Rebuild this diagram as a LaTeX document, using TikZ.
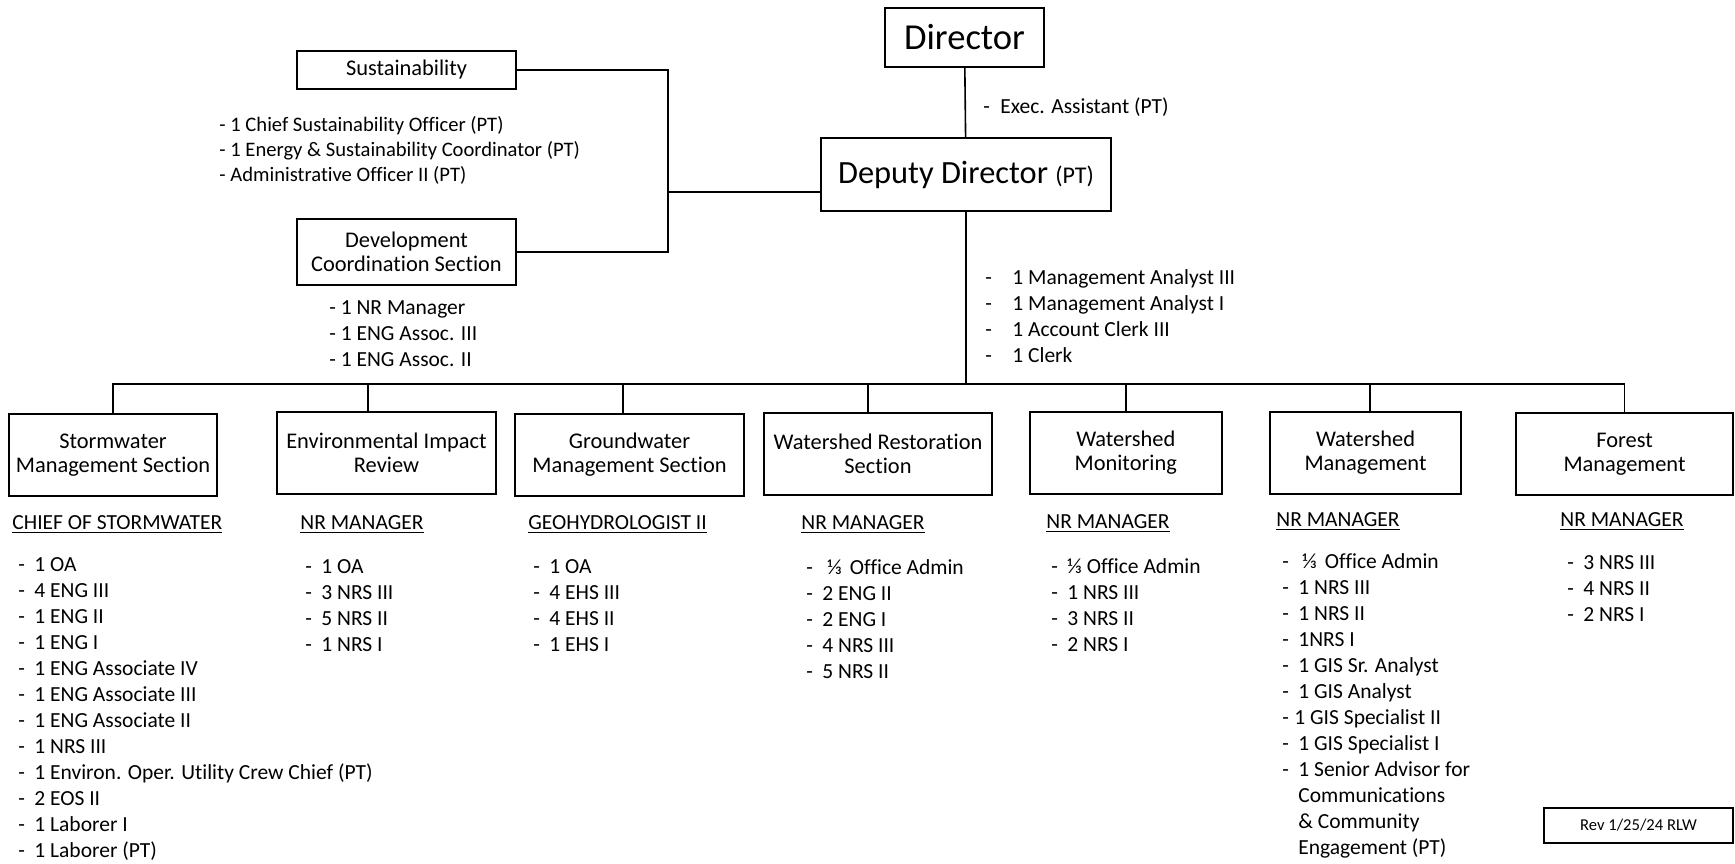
\documentclass[tikz,border=0pt]{standalone}
\usepackage{fontspec}
\setmainfont{Carlito}[Ligatures={NoCommon}]
\usetikzlibrary{positioning}
\newcommand{\listfont}{\fontsize{10.75}{13}\selectfont}
\newcommand{\boxfont}{\fontsize{11.2}{12}\selectfont}
\newcommand{\staff}[2][8pt]{\makebox[#1][l]{-}#2}

\begin{document}
\begin{tikzpicture}[
    x=0.5pt, y=-0.5pt,
    orgbox/.style={draw, line width=1pt, inner sep=0pt, align=center, font=\boxfont},
    sectionbox/.style={orgbox, minimum height=41pt},
    stafflist/.style={anchor=west, inner sep=0pt, align=left, font=\listfont},
    headline/.style={anchor=west, inner sep=0pt, font=\listfont},
    link/.style={line width=0.8pt}
]
    \useasboundingbox (0,0) rectangle (1735,863);

    % Top
    \node[orgbox, minimum width=79.5pt, minimum height=29.5pt, font=\fontsize{18.3}{20}\selectfont] (director) at (964.5,37.5) {Director};
    \node[orgbox, minimum width=145pt, minimum height=36.5pt, font=\fontsize{16.2}{18}\selectfont] (deputy) at (966,174.5) {Deputy Director {\fontsize{12}{14}\selectfont(PT)}};
    \node[orgbox, minimum width=109.5pt, minimum height=19pt] (sust) at (406.5,70) {Sustainability};
    \node[orgbox, minimum width=109.5pt, minimum height=33pt] (devcoord) at (406.5,252) {Development\\Coordination Section};

    \node[stafflist] (execasst) at (983,107) {\staff[8.5pt]{Exec. Assistant (PT)}};
    \node[stafflist, font=\fontsize{10.3}{12.5}\selectfont] (sustlist) at (219,150) {- 1 Chief Sustainability Officer (PT)\\- 1 Energy \& Sustainability Coordinator (PT)\\- Administrative Officer II (PT)};
    \node[stafflist] (devlist) at (329,334) {- 1 NR Manager\\- 1 ENG Assoc. III\\- 1 ENG Assoc. II};
    \node[stafflist] (deplist) at (985,316) {\staff[13.5pt]{1 Management Analyst III}\\\staff[13.5pt]{1 Management Analyst I}\\\staff[13.5pt]{1 Account Clerk III}\\\staff[13.5pt]{1 Clerk}};

    % Sections
    \node[sectionbox, minimum width=104pt] (storm) at (113,455) {Stormwater\\Management Section};
    \node[sectionbox, minimum width=109.5pt] (eir) at (386.5,453) {Environmental Impact\\Review};
    \node[sectionbox, minimum width=114.5pt] (ground) at (629.5,455) {Groundwater\\Management Section};
    \node[sectionbox, minimum width=114pt] (restor) at (878,454) {Watershed Restoration\\Section};
    \node[sectionbox, minimum width=95.75pt] (monitor) at (1125.75,453) {Watershed\\Monitoring};
    \node[sectionbox, minimum width=95.5pt] (wsmgmt) at (1365.5,453) {Watershed\\Management};
    \node[sectionbox, minimum width=108.5pt] (forest) at (1624.5,454) {Forest\\Management};

    % Heads
    \node[headline] (stormhead) at (12,525) {\underline{CHIEF OF STORMWATER}};
    \node[headline] (eirhead) at (300,525) {\underline{NR MANAGER}};
    \node[headline] (groundhead) at (528,525) {\underline{GEOHYDROLOGIST II}};
    \node[headline] (restorhead) at (801,525) {\underline{NR MANAGER}};
    \node[headline] (monitorhead) at (1046,524) {\underline{NR MANAGER}};
    \node[headline] (wsmgmthead) at (1276,522) {\underline{NR MANAGER}};
    \node[headline] (foresthead) at (1560,522) {\underline{NR MANAGER}};

    % Staff
    \node[stafflist] (stormlist) at (18,709) {\staff{1 OA}\\\staff{4 ENG III}\\\staff{1 ENG II}\\\staff{1 ENG I}\\\staff{1 ENG Associate IV}\\\staff{1 ENG Associate III}\\\staff{1 ENG Associate II}\\\staff{1 NRS III}\\\staff{1 Environ. Oper. Utility Crew Chief (PT)}\\\staff{2 EOS II}\\\staff{1 Laborer I}\\\staff{1 Laborer (PT)}};
    \node[stafflist] (eirlist) at (305,606) {\staff{1 OA}\\\staff{3 NRS III}\\\staff{5 NRS II}\\\staff{1 NRS I}};
    \node[stafflist] (groundlist) at (533,606) {\staff{1 OA}\\\staff{4 EHS III}\\\staff{4 EHS II}\\\staff{1 EHS I}};
    \node[stafflist] (restorlist) at (806,619) {\staff[10.5pt]{⅓\hspace{4pt}Office Admin}\\\staff{2 ENG II}\\\staff{2 ENG I}\\\staff{4 NRS III}\\\staff{5 NRS II}};
    \node[stafflist] (monitorlist) at (1051,605) {\staff{⅓ Office Admin}\\\staff{1 NRS III}\\\staff{3 NRS II}\\\staff{2 NRS I}};
    \node[stafflist] (wsmgmtlist) at (1282,706) {\staff[10pt]{⅓\hspace{4pt}Office Admin}\\\staff{1 NRS III}\\\staff{1 NRS II}\\\staff{1NRS I}\\\staff{1 GIS Sr. Analyst}\\\staff{1 GIS Analyst}\\\staff[6pt]{1 GIS Specialist II}\\\staff{1 GIS Specialist I}\\\staff{1 Senior Advisor for}\\\hspace*{8pt}Communications\\\hspace*{8pt}\& Community\\\hspace*{8pt}Engagement (PT)};
    \node[stafflist] (forestlist) at (1567,589) {\staff{3 NRS III}\\\staff{4 NRS II}\\\staff{2 NRS I}};

    \node[orgbox, minimum width=94.5pt, minimum height=17.5pt, font=\fontsize{8.3}{10}\selectfont] (rev) at (1638.5,825.5) {Rev 1/25/24 RLW};

    % Lines
    \coordinate (spine) at (668,192);
    \coordinate (bus) at (113,384);
    \draw[link] (director) -- (deputy);
    \draw[link] (sust.east) -| (spine) |- (devcoord.east);
    \draw[link] (spine) -- (spine -| deputy.west);
    \draw[link] (deputy.south) -- (deputy.south |- bus);
    \draw[link] (storm.north) |- (bus) -| (forest.north);
    \draw[link] ([xshift=-9.25pt]eir.north) -- ([xshift=-9.25pt]eir.north |- bus);
    \draw[link] ([xshift=-3.25pt]ground.north) -- ([xshift=-3.25pt]ground.north |- bus);
    \draw[link] ([xshift=-5pt]restor.north) -- ([xshift=-5pt]restor.north |- bus);
    \draw[link] (monitor.north) -- (monitor.north |- bus);
    \draw[link] ([xshift=2.25pt]wsmgmt.north) -- ([xshift=2.25pt]wsmgmt.north |- bus);
\end{tikzpicture}
\end{document}
